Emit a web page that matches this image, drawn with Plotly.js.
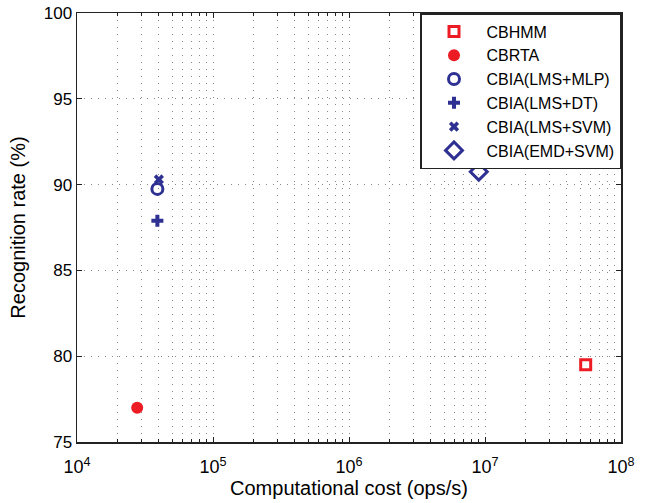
<!DOCTYPE html>
<html>
<head>
<meta charset="utf-8">
<script src="https://cdn.plot.ly/plotly-3.0.1.min.js"></script>
<style>html,body{margin:0;padding:0;background:#fff;}#chart{width:648px;height:503px;}</style>
</head>
<body>
<div id="chart"></div>
<script>
// Data
const methods = ["CBHMM", "CBRTA", "CBIA(LMS+MLP)", "CBIA(LMS+DT)", "CBIA(LMS+SVM)", "CBIA(EMD+SVM)"];
const cost = [5.5e7, 2.77e4, 3.9e4, 3.9e4, 4.0e4, 9.0e6];
const rate = [79.5, 77.0, 89.75, 87.9, 90.3, 90.75];
const xTickVals = [1e4, 1e5, 1e6, 1e7, 1e8];
const xTickText = ["10<sup>4</sup>", "10<sup>5</sup>", "10<sup>6</sup>", "10<sup>7</sup>", "10<sup>8</sup>"];
const yTickVals = [75, 80, 85, 90, 95, 100];

const RED = '#ED1C24', BLUE = '#2E3192';
const styles = [
  {symbol: 'square-open', size: 10, color: RED, lw: 3},
  {symbol: 'circle', size: 12, color: RED, lw: 0},
  {symbol: 'circle-open', size: 11, color: BLUE, lw: 3},
  {symbol: 'cross', size: 10, color: BLUE, lw: 0},
  {symbol: 'x', size: 9, color: BLUE, lw: 0},
  {symbol: 'diamond-open', size: 13, color: BLUE, lw: 3}
];

const traces = methods.map((m, i) => ({
  type: 'scatter', mode: 'markers', name: m,
  x: [cost[i]], y: [rate[i]],
  marker: {symbol: styles[i].symbol, size: styles[i].size, color: styles[i].color,
           line: {width: styles[i].lw, color: styles[i].color}}
}));

const gridDot = {gridcolor: '#888', griddash: '1px,6px', gridwidth: 1};
const layout = {
  width: 648, height: 503,
  margin: {l: 77, r: 27, t: 13, b: 61},
  paper_bgcolor: '#fff', plot_bgcolor: '#fff',
  font: {family: 'Liberation Sans, Arial, sans-serif', color: '#000', size: 17},
  showlegend: true,
  xaxis: {
    type: 'log', range: [4, 8],
    tickvals: xTickVals, ticktext: xTickText,
    ticks: 'inside', ticklen: 5, tickcolor: '#222',
    ticklabelstandoff: 8,
    showline: true, linecolor: '#222', linewidth: 1.5, mirror: 'allticks',
    showgrid: true, ...gridDot,
    zeroline: false,
    tickfont: {size: 18},
    minor: {dtick: 'D1', showgrid: true, gridcolor: '#888', griddash: '1px,6px', gridwidth: 1, ticks: 'inside', ticklen: 3, tickcolor: '#222'},
    title: {text: 'Computational cost (ops/s)', font: {size: 20}, standoff: 4}
  },
  yaxis: {
    range: [75, 100],
    tickvals: yTickVals,
    ticks: 'inside', ticklen: 5, tickcolor: '#222',
    showline: true, linecolor: '#222', linewidth: 1.5, mirror: 'allticks',
    showgrid: true, ...gridDot,
    zeroline: false,
    tickfont: {size: 17},
    title: {text: 'Recognition rate (%)', font: {size: 20}, standoff: 12}
  },
  legend: {
    x: 1, y: 1, xanchor: 'right', yanchor: 'top',
    bgcolor: '#fff', bordercolor: '#222', borderwidth: 1.5,
    font: {size: 16}, itemwidth: 55, tracegroupgap: 1
  }
};

Plotly.newPlot('chart', traces, layout, {displayModeBar: false, staticPlot: true});
</script>
</body>
</html>
